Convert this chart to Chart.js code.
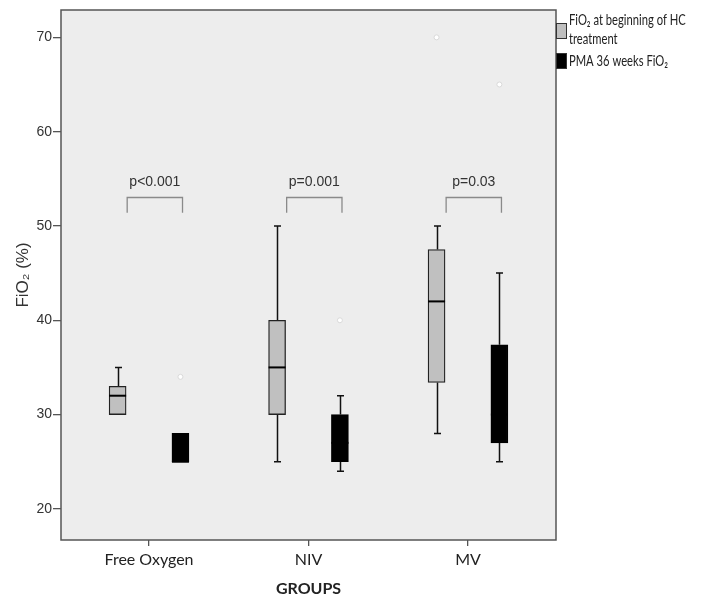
<!DOCTYPE html>
<html>
<head>
<meta charset="utf-8">
<title>FiO2 by group</title>
<script src="https://cdn.jsdelivr.net/npm/chart.js@4.4.1/dist/chart.umd.min.js"></script>
<style>
  html, body { margin: 0; padding: 0; background: #fff; }
  #wrap { width: 704px; height: 598px; }
</style>
</head>
<body>
<div id="wrap"><canvas id="boxChart" width="704" height="598"></canvas></div>
<script>
// Groups on the x axis
const groups = ["Free Oxygen", "NIV", "MV"];

// FiO2 at beginning of HC treatment (grey boxes)
const startMin = [30, 25, 28];
const startQ1 = [30, 30, 33.4];
const startMedian = [32, 35, 42];
const startQ3 = [33, 40, 47.5];
const startMax = [35, 50, 50];
const startOutliers = [[], [], [70]];

// PMA 36 weeks FiO2 (black boxes)
const pmaMin = [25, 24, 25];
const pmaQ1 = [25, 25, 27];
const pmaMedian = [25, 27, 30];
const pmaQ3 = [28, 30, 37.4];
const pmaMax = [28, 32, 45];
const pmaOutliers = [[34], [40], [65]];

// Significance brackets
const pValues = ["p<0.001", "p=0.001", "p=0.03"];
const bracketTop = [53.1, 53.1, 53.1];
const bracketLegEnd = [51.4, 51.4, 51.4];

// Axis ticks
const yTicks = [20, 30, 40, 50, 60, 70];

const seriesLabels = ["FiO\u2082 at beginning of HC treatment", "PMA 36 weeks FiO\u2082"];

const SHIFT = 0.197; // half distance between the two boxes of a group
const arial = "'Liberation Sans', Arial, sans-serif";
const sans = "Lato, 'Open Sans', sans-serif";

function boxData(q1, q3, sign) {
  return groups.map((g, i) => ({ x: i + sign * SHIFT, y: [q1[i], q3[i]] }));
}
function outlierData(list, sign) {
  const pts = [];
  list.forEach((vals, i) => vals.forEach(v => pts.push({ x: i + sign * SHIFT, y: v })));
  return pts;
}

// Whiskers, medians, brackets, frame and legend
const boxPlotExtras = {
  id: "boxPlotExtras",
  beforeDraw(chart) {
    const { ctx, chartArea: a } = chart;
    ctx.save();
    ctx.fillStyle = "#ededed";
    ctx.fillRect(a.left, a.top, a.right - a.left, a.bottom - a.top);
    ctx.restore();
  },
  beforeDatasetsDraw(chart) {
    const { ctx, scales: { x, y } } = chart;
    const cap = 3.5;
    ctx.save();
    ctx.strokeStyle = "#111";
    ctx.lineWidth = 1.5;
    const whisk = (mins, q1s, q3s, maxs, sign) => {
      groups.forEach((g, i) => {
        const px = Math.round(x.getPixelForValue(i + sign * SHIFT)) + 0.5;
        [[q3s[i], maxs[i]], [q1s[i], mins[i]]].forEach(([from, to]) => {
          if (from === to) return;
          const y1 = y.getPixelForValue(from), y2 = y.getPixelForValue(to);
          ctx.beginPath();
          ctx.moveTo(px, y1); ctx.lineTo(px, y2);
          ctx.moveTo(px - cap, y2); ctx.lineTo(px + cap, y2);
          ctx.stroke();
        });
      });
    };
    whisk(startMin, startQ1, startQ3, startMax, -1);
    whisk(pmaMin, pmaQ1, pmaQ3, pmaMax, 1);
    ctx.restore();
  },
  afterDatasetsDraw(chart) {
    const { ctx, scales: { x, y } } = chart;
    const half = 8.5;
    ctx.save();
    // medians
    ctx.strokeStyle = "#000";
    ctx.lineWidth = 2;
    [[startMedian, -1], [pmaMedian, 1]].forEach(([med, sign]) => {
      groups.forEach((g, i) => {
        const px = x.getPixelForValue(i + sign * SHIFT);
        const py = y.getPixelForValue(med[i]);
        ctx.beginPath();
        ctx.moveTo(px - half, py); ctx.lineTo(px + half, py);
        ctx.stroke();
      });
    });
    // brackets with p-values
    ctx.strokeStyle = "#8a8a8a";
    ctx.lineWidth = 1.3;
    ctx.fillStyle = "#333";
    ctx.font = "14px " + arial;
    ctx.textAlign = "center";
    ctx.textBaseline = "alphabetic";
    pValues.forEach((p, i) => {
      const x1 = x.getPixelForValue(i - 0.137), x2 = x.getPixelForValue(i + 0.21);
      const yt = Math.round(y.getPixelForValue(bracketTop[i])) + 0.5;
      const yb = y.getPixelForValue(bracketLegEnd[i]);
      ctx.beginPath();
      ctx.moveTo(x1, yb); ctx.lineTo(x1, yt); ctx.lineTo(x2, yt); ctx.lineTo(x2, yb);
      ctx.stroke();
      ctx.fillText(p, (x1 + x2) / 2, yt - 12);
    });
    ctx.restore();
  },
  afterDraw(chart) {
    const { ctx, chartArea: a } = chart;
    ctx.save();
    ctx.strokeStyle = "#555";
    ctx.lineWidth = 1.5;
    ctx.strokeRect(a.left, a.top, a.right - a.left, a.bottom - a.top);

    // legend at the top right, outside the plot (condensed text)
    const swatches = ["#c0c0c0", "#000"];
    const tops = [23, 53];
    const firstLine = [20, 61];
    const squeeze = 0.7;
    ctx.font = "16px " + sans;
    ctx.textAlign = "left";
    ctx.textBaseline = "middle";
    chart.data.datasets.slice(0, 2).forEach((ds, k) => {
      ctx.fillStyle = swatches[k];
      ctx.fillRect(a.right, tops[k], 11, 16);
      ctx.strokeStyle = "#333";
      ctx.lineWidth = 1;
      ctx.strokeRect(a.right + 0.5, tops[k] + 0.5, 10, 15);
      // wrap label into lines
      const words = ds.label.split(" ");
      const lines = [];
      let line = "";
      words.forEach(w => {
        const test = line ? line + " " + w : w;
        if (ctx.measureText(test).width * squeeze > 125 && line) { lines.push(line); line = w; }
        else line = test;
      });
      lines.push(line);
      ctx.fillStyle = "#222";
      lines.forEach((l, j) => {
        ctx.save();
        ctx.translate(a.right + 13, firstLine[k] + j * 19);
        ctx.scale(squeeze, 1);
        ctx.fillText(l, 0, 0);
        ctx.restore();
      });
    });
    ctx.restore();
  }
};

const ctx = document.getElementById("boxChart").getContext("2d");

new Chart(ctx, {
  data: {
    datasets: [
      {
        type: "bar",
        label: seriesLabels[0],
        data: boxData(startQ1, startQ3, -1),
        backgroundColor: "#c0c0c0",
        borderColor: "#222",
        borderWidth: 1.3,
        borderSkipped: false,
        barThickness: 17,
        grouped: false
      },
      {
        type: "bar",
        label: seriesLabels[1],
        data: boxData(pmaQ1, pmaQ3, 1),
        backgroundColor: "#000",
        borderColor: "#000",
        borderWidth: 1.3,
        borderSkipped: false,
        barThickness: 17,
        grouped: false
      },
      {
        type: "scatter",
        label: "start outliers",
        data: outlierData(startOutliers, -1),
        pointRadius: 2.5,
        backgroundColor: "#fff",
        borderColor: "#dadada",
        borderWidth: 1
      },
      {
        type: "scatter",
        label: "pma outliers",
        data: outlierData(pmaOutliers, 1),
        pointRadius: 2.5,
        backgroundColor: "#fff",
        borderColor: "#dadada",
        borderWidth: 1
      }
    ]
  },
  options: {
    responsive: false,
    animation: false,
    devicePixelRatio: 1,
    layout: { padding: { top: 10, right: 148, left: 0, bottom: 0 } },
    plugins: {
      legend: { display: false },
      tooltip: { enabled: false }
    },
    scales: {
      x: {
        type: "linear",
        offset: false,
        min: -0.552,
        max: 2.552,
        afterBuildTicks: (scale) => { scale.ticks = groups.map((g, i) => ({ value: i })); },
        afterFit: (scale) => { scale.height = 58; },
        ticks: {
          callback: (v) => groups[v],
          color: "#222",
          font: { family: sans, size: 16 },
          padding: 4,
          maxRotation: 0
        },
        grid: { offset: false, drawOnChartArea: false, tickLength: 6, color: "#555", lineWidth: 1.3 },
        border: { display: false },
        title: {
          display: true,
          text: "GROUPS",
          color: "#222",
          font: { family: sans, size: 16, weight: "bold" },
          padding: { top: 3, bottom: 0 }
        }
      },
      y: {
        min: 16.7,
        max: 72.9,
        afterBuildTicks: (scale) => { scale.ticks = yTicks.map(v => ({ value: v })); },
        afterFit: (scale) => { scale.width = 61; },
        ticks: {
          color: "#333",
          font: { family: arial, size: 14 },
          padding: 1
        },
        grid: { drawOnChartArea: false, tickLength: 8, color: "#555", lineWidth: 1.3 },
        border: { display: false },
        title: {
          display: true,
          text: "FiO\u2082 (%)",
          color: "#333",
          font: { family: arial, size: 17 },
          padding: { top: 13, bottom: 0 }
        }
      }
    }
  },
  plugins: [boxPlotExtras]
});
</script>
</body>
</html>
